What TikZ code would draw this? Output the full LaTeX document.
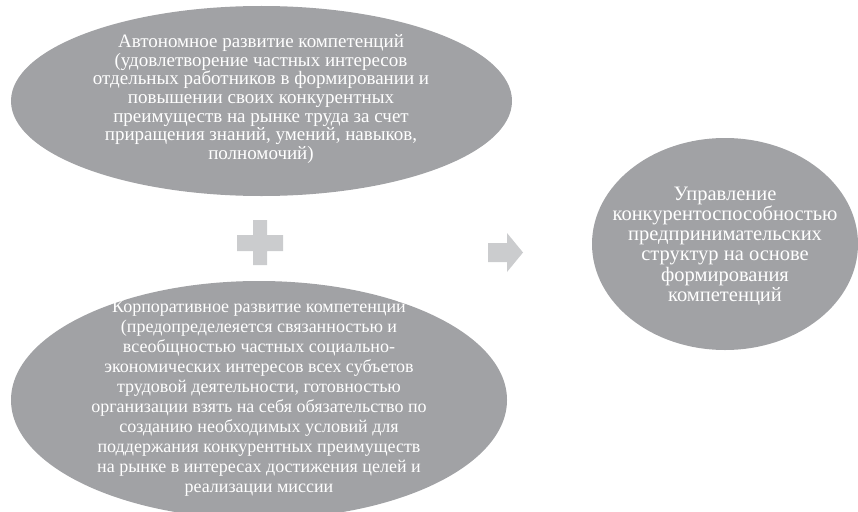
\documentclass[tikz,border=0pt]{standalone}
\usepackage{fontspec}
\setmainfont{Liberation Serif}
\begin{document}
\begin{tikzpicture}[x=1pt,y=-1pt,
  blob/.style={fill=ellgray,draw=none},
  lbl/.style={text=white,align=center,inner sep=0pt},
  sign/.style={fill=signgray,draw=none}]
\definecolor{ellgray}{HTML}{A1A2A5}
\definecolor{signgray}{HTML}{CBCCCE}
\useasboundingbox (0,0) rectangle (858,511);
\clip (0,0) rectangle (858,511);
% ellipses
\fill[blob] (261.5,101) ellipse [x radius=250.5, y radius=95];
\fill[blob] (259,400) ellipse [x radius=248, y radius=119];
\fill[blob] (725,244) ellipse [x radius=133, y radius=106];
% texts
\node[lbl,font=\fontsize{19}{18.6}\selectfont] (auto) at (261,99)
 {Автономное развитие компетенций\\(удовлетворение частных интересов\\отдельных работников в формировании и\\повышении своих конкурентных\\преимуществ на рынке труда за счет\\приращения знаний, умений, навыков,\\полномочий)};
\node[lbl,font=\fontsize{18}{20}\selectfont] (corp) at (259,398)
 {Корпоративное развитие компетенций\\(предопределеяется связанностью и\\всеобщностью частных социально-\\экономических интересов всех субъетов\\трудовой деятельности, готовностью\\организации взять на себя обязательство по\\созданию необходимых условий для\\поддержания конкурентных преимуществ\\на рынке в интересах достижения целей и\\реализации миссии};
\node[lbl,font=\fontsize{20.5}{20.2}\selectfont] (mgmt) at (725,246)
 {Управление\\конкурентоспособностью\\предпринимательских\\структур на основе\\формирования\\компетенций};
% plus sign
\fill[sign] (253,220) -- (267,220) -- (267,235) -- (283,235) -- (283,251) -- (267,251) -- (267,265) -- (253,265) -- (253,251) -- (237,251) -- (237,235) -- (253,235) -- cycle;
% arrow
\fill[sign] (488,243) -- (507,243) -- (507,233) -- (523,252.5) -- (507,272) -- (507,262) -- (488,262) -- cycle;
\end{tikzpicture}
\end{document}
